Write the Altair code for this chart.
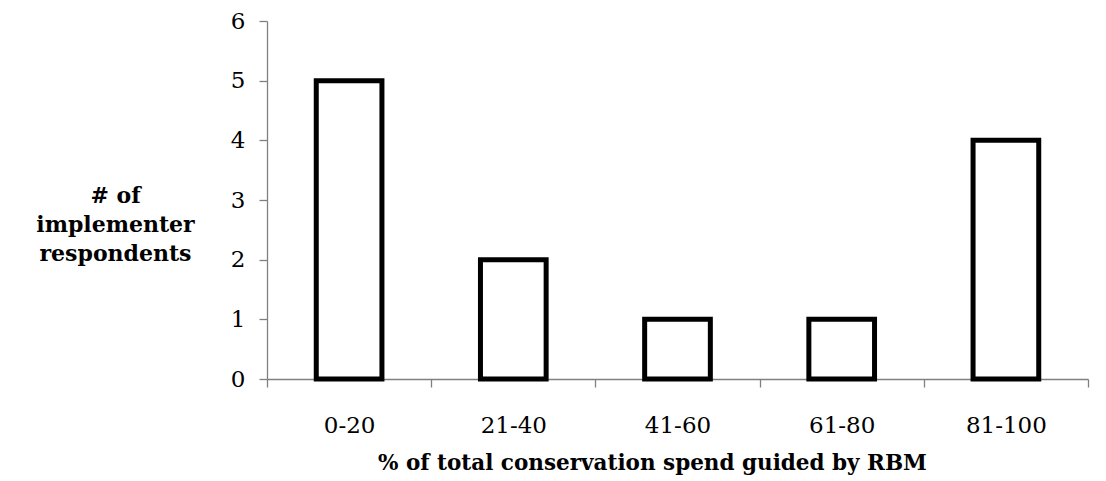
import altair as alt
import pandas as pd

categories = ["0-20", "21-40", "41-60", "61-80", "81-100"]
counts = [5, 2, 1, 1, 4]

df = pd.DataFrame({"range": categories, "count": counts})

FONT = "DejaVu Serif"

chart = alt.Chart(df).mark_bar(
    fill="white", stroke="black", strokeWidth=5, width=alt.RelativeBandSize(0.4)
).encode(
    x=alt.X("range:N", sort=categories,
            scale=alt.Scale(paddingInner=0, paddingOuter=0),
            axis=alt.Axis(title="% of total conservation spend guided by RBM",
                          labelAngle=0, tickBand="extent", tickSize=8,
                          labelPadding=27, labelFontSize=23, labelFont=FONT,
                          labelColor="black",
                          titleFont=FONT, titleFontSize=21.5, titleFontWeight="bold",
                          titleX=385, titleY=84, titleAnchor="middle",
                          titleAlign="center", titleBaseline="middle",
                          titleColor="black")),
    y=alt.Y("count:Q", scale=alt.Scale(domain=[0, 6]),
            axis=alt.Axis(title=["# of", "implementer", "respondents"],
                          values=[0, 1, 2, 3, 4, 5, 6], grid=False, tickSize=8,
                          labelPadding=14, labelFontSize=23, labelFont=FONT,
                          labelColor="black",
                          titleFont=FONT, titleFontSize=22, titleFontWeight="bold",
                          titleAngle=0, titleX=-152, titleY=174,
                          titleAlign="center", titleBaseline="middle",
                          titleLineHeight=29, titleColor="black")),
).properties(
    width=821, height=358,
    autosize=alt.AutoSizeParams(type="none"),
    padding={"left": 259, "top": 13, "right": 10, "bottom": 100},
).configure_view(
    stroke=None
).configure_axis(
    domainColor="#808080", tickColor="#808080", domainWidth=1.3, tickWidth=1.3
)

chart.save("out.html", embed_options={"renderer": "svg", "actions": False})
